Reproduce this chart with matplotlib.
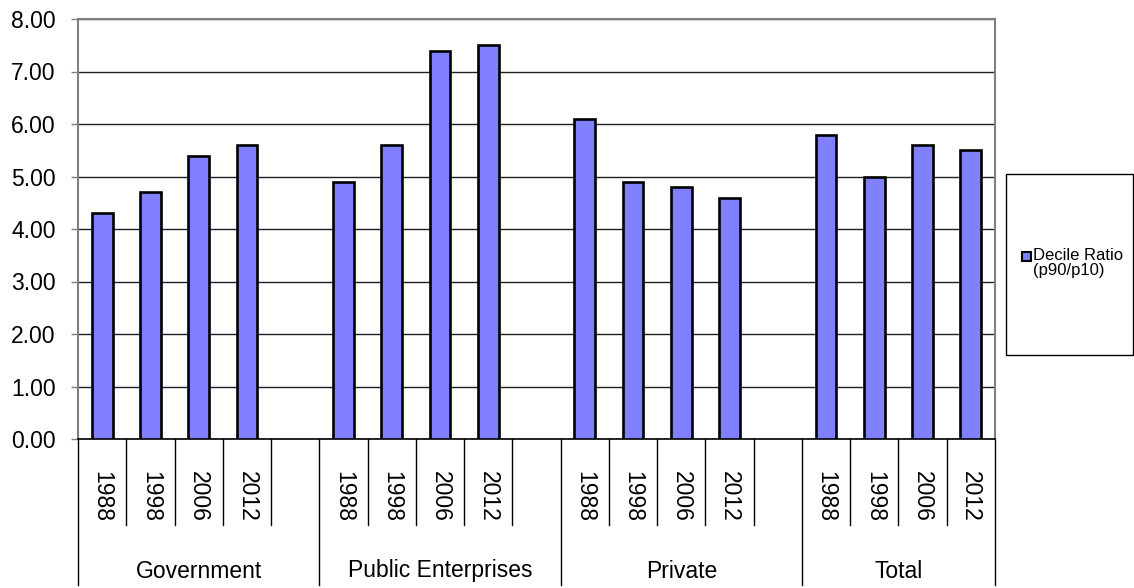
import matplotlib
matplotlib.use("Agg")
import matplotlib.pyplot as plt
from matplotlib.patches import Rectangle

groups = ["Government", "Public Enterprises", "Private", "Total"]
years = ["1988", "1998", "2006", "2012"]
government = [4.3, 4.7, 5.4, 5.6]
public_enterprises = [4.9, 5.6, 7.4, 7.5]
private = [6.1, 4.9, 4.8, 4.6]
total = [5.8, 5.0, 5.6, 5.5]
series_name = "Decile Ratio\n(p90/p10)"

plt.rcParams['font.family'] = ['Liberation Sans', 'DejaVu Sans']

W, H = 1134, 588
fig = plt.figure(figsize=(W / 100, H / 100), dpi=100)

# plot area in pixels
px_l, px_r, px_t, px_b = 78, 995, 19, 439
ax = fig.add_axes([px_l / W, (H - px_b) / H, (px_r - px_l) / W, (px_b - px_t) / H])

values = [government, public_enterprises, private, total]
slot = 5
xs, ys = [], []
for g, vals in enumerate(values):
    for i, v in enumerate(vals):
        xs.append(g * slot + i)
        ys.append(v)

ax.bar(xs, ys, width=0.43, color="#8080FF", edgecolor="black", linewidth=1.9, zorder=3)

n_slots = len(groups) * slot - 1
ax.set_xlim(-0.5, n_slots - 0.5)
ax.set_ylim(0, 8)
ax.set_yticks(range(0, 9))
ax.set_yticklabels([f"{v:.2f}" for v in range(0, 9)], fontsize=16.5)
ax.tick_params(axis="y", direction="out", length=5, width=1, color="#808080", pad=11)
ax.grid(axis="y", color="#202020", linewidth=1, zorder=1)
ax.set_axisbelow(True)
ax.set_xticks([])

for side in ["left", "top", "right"]:
    ax.spines[side].set_color("#808080")
    ax.spines[side].set_linewidth(1.5)
ax.spines["bottom"].set_color("black")
ax.spines["bottom"].set_linewidth(1.2)

# multi-level category axis
plot_h = px_b - px_t
def ypx(p):
    # pixel y (from top) -> axes fraction
    return (px_b - p) / plot_h

trans = ax.get_xaxis_transform()
for k in range(n_slots + 1):
    x = k - 0.5
    is_group = (k % slot == 0) or k == n_slots
    bottom = 585 if is_group else 525
    ax.plot([x, x], [0, ypx(bottom)], transform=trans, color="black",
            linewidth=1, clip_on=False)

for g, name in enumerate(groups):
    for i, yr in enumerate(years):
        ax.text(g * slot + i, ypx(471), yr, transform=trans, rotation=270,
                ha="center", va="top", fontsize=16.5)
    start = g * slot - 0.5
    end = min(g * slot + slot - 0.5, n_slots - 0.5)
    ax.text((start + end) / 2, ypx(571), name, transform=trans,
            ha="center", va="center", fontsize=16.5)

# legend box
fig.patches.append(Rectangle((1006 / W, (H - 355) / H), 127 / W, 181 / H,
                             transform=fig.transFigure, facecolor="white",
                             edgecolor="black", linewidth=1))
fig.patches.append(Rectangle((1022 / W, (H - 261) / H), 9 / W, 9 / H,
                             transform=fig.transFigure, facecolor="#8080FF",
                             edgecolor="black", linewidth=1.5))
fig.text(1033 / W, (H - 248) / H, series_name, fontsize=12, ha="left", va="top",
         linespacing=1.0, transform=fig.transFigure)

fig.savefig("out.png", dpi=100)
